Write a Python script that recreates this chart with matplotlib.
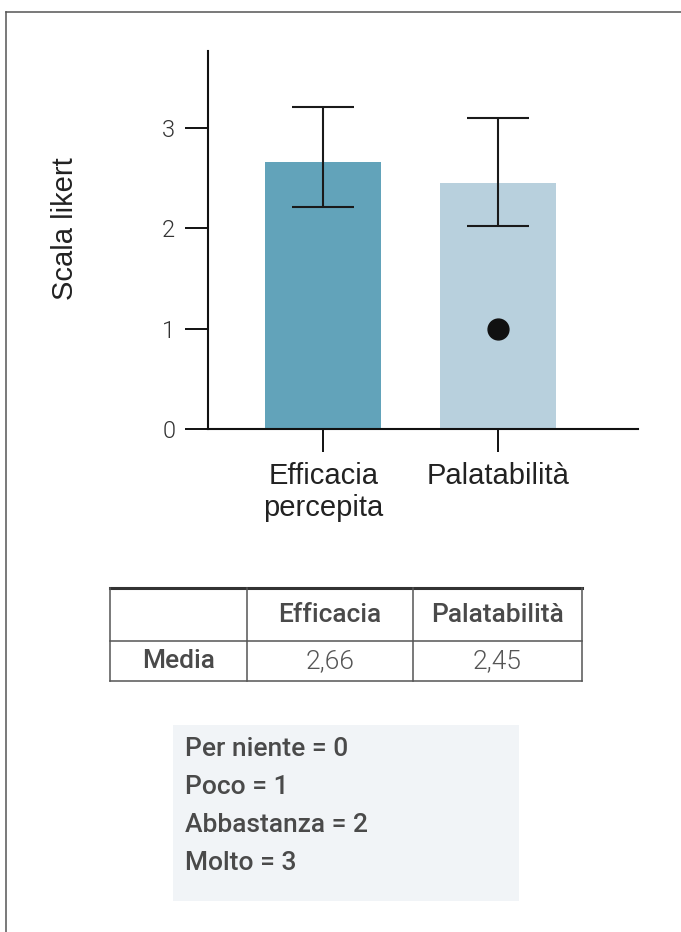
import matplotlib
matplotlib.use("Agg")
import matplotlib.pyplot as plt
from matplotlib.patches import Rectangle

# bar chart data (likert means, whiskers, single observation)
categories = ["Efficacia\npercepita", "Palatabilità"]
means = [2.66, 2.45]
err_low = [2.21, 2.02]
err_high = [3.21, 3.10]
point_x = [1]
point_y = [1.0]
bar_colors = ["#62a3ba", "#b8d0dd"]
y_ticks = [0, 1, 2, 3]

# summary table + scale legend
table_headers = ["", "Efficacia", "Palatabilità"]
row_label = "Media"
scale_labels = ["Per niente = 0", "Poco = 1", "Abbastanza = 2", "Molto = 3"]

plt.rcParams['font.family'] = ['Liberation Sans', 'DejaVu Sans']
medium = dict(family=["Roboto", "DejaVu Sans"], fontweight=500)
light = dict(family=["Roboto", "DejaVu Sans"], fontweight=300)

W, H = 681, 932
fig = plt.figure(figsize=(W / 100, H / 100), dpi=100)

# page overlay in pixel units (frame, table, legend box)
page = fig.add_axes([0, 0, 1, 1])
page.set_xlim(0, W)
page.set_ylim(H, 0)
page.axis("off")
page.plot([5.5, W], [11.5, 11.5], color="#555555", lw=1.1)
page.plot([5.5, 5.5], [11.5, H], color="#555555", lw=1.1)

# main chart
ax = fig.add_axes([208 / W, 1 - 429.3 / H, (637.7 - 208) / W, (429.3 - 51) / H])
x = list(range(len(means)))
ax.bar(x, means, width=0.666, color=bar_colors, zorder=1)
yerr = [[m - lo for m, lo in zip(means, err_low)],
        [hi - m for m, hi in zip(means, err_high)]]
ax.errorbar(x, means, yerr=yerr, fmt="none", ecolor="#1a1a1a",
            elinewidth=1.5, capsize=22, capthick=1.5, zorder=3)
ax.plot(point_x, point_y, "o", color="#111111", markersize=15, zorder=4)

ax.set_xlim(-0.663, 1.804)
ax.set_ylim(0, 3.763)
for s in ["top", "right"]:
    ax.spines[s].set_visible(False)
for s in ["left", "bottom"]:
    ax.spines[s].set_linewidth(1.5)
    ax.spines[s].set_color("#111111")
ax.set_yticks(y_ticks)
ax.set_yticklabels([str(t) for t in y_ticks], fontsize=17, color="#333333", **light)
ax.set_xticks(x)
ax.set_xticklabels(categories, fontsize=21, color="#222222", linespacing=1.2)
ax.tick_params(axis="both", length=16.5, width=1.4, color="#111111", direction="out")
ax.tick_params(axis="y", pad=7)
ax.tick_params(axis="x", pad=7)
ax.patch.set_alpha(0)

fig.text(65 / W, 1 - 228.7 / H, "Scala likert", rotation=90, ha="center", va="center",
         fontsize=21, color="#222222")

# table of means
col_edges = [110, 246.7, 413.3, 581.7]
row_edges = [588.3, 641, 681]
page.plot([col_edges[0], col_edges[-1]], [row_edges[0], row_edges[0]], color="#333333", lw=2.2)
for yy in row_edges[1:]:
    page.plot([col_edges[0], col_edges[-1]], [yy, yy], color="#555555", lw=1.1)
for xx in col_edges:
    page.plot([xx, xx], [row_edges[0], row_edges[-1]], color="#555555", lw=1.1)

header_y = (row_edges[0] + row_edges[1]) / 2
value_y = (row_edges[1] + row_edges[2]) / 2
centers = [(col_edges[i] + col_edges[i + 1]) / 2 for i in range(3)]
for cx, h in zip(centers, table_headers):
    page.text(cx, header_y, h, ha="center", va="center", fontsize=19,
              color="#4a4a4a", **medium)
page.text(centers[0], value_y, row_label, ha="center", va="center", fontsize=19,
          color="#4a4a4a", **medium)
for cx, m in zip(centers[1:], means):
    page.text(cx, value_y, f"{m:.2f}".replace(".", ","), ha="center", va="center",
              fontsize=19, color="#555555", **light)

# scale legend box
page.add_patch(Rectangle((172.7, 725), 519.3 - 172.7, 900.7 - 725, color="#f1f4f7", lw=0))
for i, lab in enumerate(scale_labels):
    page.text(185, 749 + i * 38, lab, ha="left", va="center", fontsize=19,
              color="#4a4a4a", **medium)

fig.savefig("out.png", dpi=100)
